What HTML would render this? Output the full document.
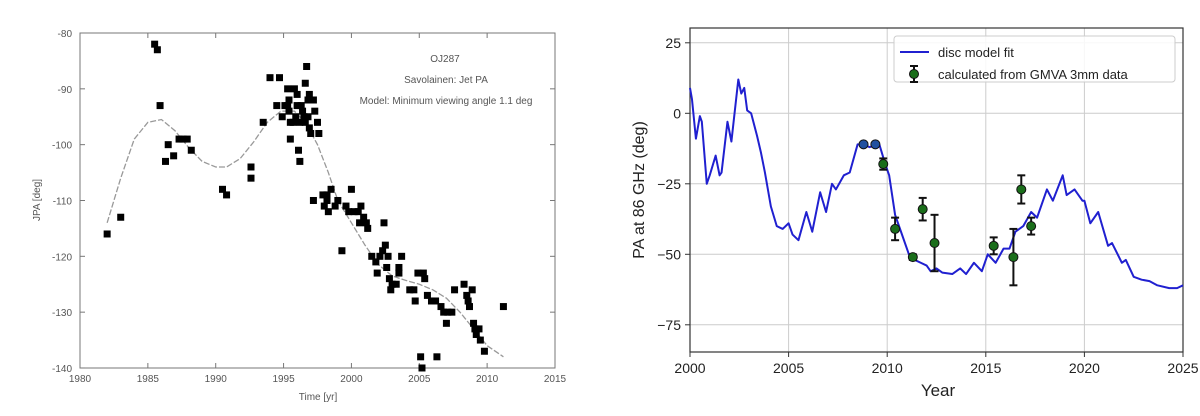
<!DOCTYPE html>
<html><head><meta charset="utf-8"><style>
body{margin:0;background:#fff;width:1200px;height:416px;overflow:hidden}
svg{display:block}
</style></head><body>
<svg id="s" width="1200" height="416" xmlns="http://www.w3.org/2000/svg" font-family="Liberation Sans, DejaVu Sans, sans-serif"></svg>
<script>
var s=document.getElementById('s'),h='';
// LEFT
function lx(t){return 80+(t-1980)*13.571}
function ly(v){return 33-(v+80)*5.583}
h+='<rect x="80" y="33" width="475" height="335" fill="none" stroke="#777" stroke-width="1"/>';
for(var t=1980;t<=2015;t+=5){var x=lx(t);h+='<line x1="'+x+'" y1="368" x2="'+x+'" y2="363" stroke="#777"/><line x1="'+x+'" y1="33" x2="'+x+'" y2="38" stroke="#777"/><text x="'+x+'" y="382" font-size="10" fill="#555" text-anchor="middle">'+t+'</text>';}
for(var v=-80;v>=-140;v-=10){var y=ly(v);h+='<line x1="80" y1="'+y+'" x2="85" y2="'+y+'" stroke="#777"/><line x1="555" y1="'+y+'" x2="550" y2="'+y+'" stroke="#777"/><text x="72" y="'+(y+4)+'" font-size="10" fill="#555" text-anchor="end">'+v+'</text>';}
h+='<text x="318" y="400" font-size="10" fill="#555" text-anchor="middle">Time [yr]</text>';
h+='<text transform="translate(40,200) rotate(-90)" font-size="10" fill="#555" text-anchor="middle">JPA [deg]</text>';
h+='<text x="445" y="62" font-size="10" fill="#555" text-anchor="middle">OJ287</text><text x="446" y="83" font-size="10" fill="#555" text-anchor="middle">Savolainen: Jet PA</text><text x="446" y="104" font-size="10" fill="#555" text-anchor="middle">Model: Minimum viewing angle 1.1 deg</text>';
var m=[[1982,-114],[1983,-106],[1984,-99],[1985,-96],[1986,-95.5],[1987,-97.5],[1988,-100.5],[1989,-103],[1990,-104],[1990.8,-104],[1991.8,-102.5],[1992.8,-99.5],[1993.8,-96],[1994.8,-94],[1995.8,-94],[1996.6,-96],[1997.5,-100],[1998.3,-105],[1999,-110],[2000,-114],[2001,-118],[2002,-121.5],[2003,-123.5],[2004,-124.3],[2005,-125],[2006,-126],[2007,-127.5],[2008,-130],[2009,-133],[2010,-136],[2011.2,-138]];
h+='<polyline fill="none" stroke="#999" stroke-width="1.3" stroke-dasharray="6,2" points="'+m.map(function(p){return lx(p[0])+','+ly(p[1])}).join(' ')+'"/>';
var d=[[1982,-116],[1983,-113],[1985.5,-82],[1985.7,-83],[1985.9,-93],[1986.3,-103],[1986.5,-100],[1986.9,-102],[1987.3,-99],[1987.6,-99],[1987.9,-99],[1988.2,-101],[1990.5,-108],[1990.8,-109],[1992.6,-104],[1992.6,-106],[1993.5,-96],[1994,-88],[1994.5,-93],[1994.7,-88],[1994.9,-95],[1995.1,-93],[1995.3,-90],[1995.4,-92],[1995.4,-94],[1995.5,-96],[1995.3,-93],[1995.5,-99],[1995.8,-90],[1995.7,-96],[1995.9,-95],[1996,-91],[1996,-93],[1996.1,-101],[1996.2,-103],[1996.3,-93],[1996.2,-96],[1996.5,-95],[1996.4,-94],[1996.6,-89],[1996.7,-86],[1996.6,-96],[1996.8,-92],[1996.8,-95],[1996.9,-97],[1997,-98],[1996.9,-91],[1997.2,-92],[1997.3,-94],[1997.5,-96],[1997.6,-98],[1997.2,-110],[1997.9,-109],[1998,-111],[1998.2,-110],[1998.2,-109],[1998.3,-112],[1998.5,-108],[1998.8,-111],[1999,-110],[1999.3,-119],[1999.6,-111],[1999.8,-112],[2000,-108],[2000.2,-112],[2000.5,-112],[2000.6,-114],[2000.7,-111],[2000.9,-113],[2001.1,-114],[2001.2,-115],[2001.5,-120],[2001.8,-121],[2001.9,-123],[2002.1,-120],[2002.3,-119],[2002.4,-114],[2002.5,-118],[2002.6,-122],[2002.7,-120],[2002.8,-124],[2002.9,-126],[2003,-125],[2003.3,-125],[2003.5,-122],[2003.5,-123],[2003.7,-120],[2004.3,-126],[2004.6,-126],[2004.7,-128],[2004.9,-123],[2005.1,-138],[2005.2,-140],[2005.3,-123],[2005.4,-124],[2005.6,-127],[2005.9,-128],[2006.2,-128],[2006.3,-138],[2006.6,-129],[2006.8,-130],[2007,-132],[2007.1,-130],[2007.4,-130],[2007.6,-126],[2008.3,-125],[2008.5,-127],[2008.6,-128],[2008.7,-129],[2008.9,-126],[2009,-132],[2009.1,-133],[2009.2,-134],[2009.4,-133],[2009.5,-135],[2009.8,-137],[2011.2,-129]];
d.forEach(function(p){h+='<rect x="'+(lx(p[0])-3.5)+'" y="'+(ly(p[1])-3.5)+'" width="7" height="7" fill="#000"/>';});
// RIGHT
function rx(t){return 690+(t-2000)*19.72}
function ry(v){return 113.3-v*2.82}
for(var t=2000;t<=2025;t+=5){var x=rx(t);h+='<line x1="'+x+'" y1="28" x2="'+x+'" y2="352" stroke="#ccc" stroke-width="1"/><line x1="'+x+'" y1="352" x2="'+x+'" y2="357" stroke="#333"/><text x="'+x+'" y="373" font-size="14" fill="#222" text-anchor="middle">'+t+'</text>';}
[25,0,-25,-50,-75].forEach(function(v){var y=ry(v);h+='<line x1="690" y1="'+y+'" x2="1183" y2="'+y+'" stroke="#ccc"/><line x1="685" y1="'+y+'" x2="690" y2="'+y+'" stroke="#333"/><text x="681" y="'+(y+5)+'" font-size="14" fill="#222" text-anchor="end">'+(v<0?'\u2212'+(-v):v)+'</text>';});
h+='<rect x="690" y="28" width="493" height="324" fill="none" stroke="#333" stroke-width="1.2"/>';
h+='<text x="938" y="396" font-size="17" fill="#222" text-anchor="middle">Year</text>';
h+='<text transform="translate(644,190) rotate(-90)" font-size="16" fill="#222" text-anchor="middle">PA at 86 GHz (deg)</text>';
var b=[[2000,9],[2000.1,5],[2000.3,-9],[2000.5,-1],[2000.6,-3],[2000.85,-25],[2001,-22],[2001.3,-15],[2001.5,-22],[2001.6,-21],[2001.9,-3],[2002.1,-10],[2002.45,12],[2002.6,7],[2002.75,9],[2002.9,1],[2003.1,0],[2003.4,-8],[2003.6,-14],[2003.8,-21],[2004.1,-33],[2004.4,-40],[2004.7,-41],[2005,-39],[2005.2,-43],[2005.5,-45],[2005.9,-35],[2006.2,-42],[2006.6,-28],[2006.9,-35],[2007.2,-25],[2007.4,-27],[2007.8,-22],[2008.1,-21],[2008.5,-11],[2008.8,-11],[2009.1,-12],[2009.6,-11],[2009.9,-18],[2010.1,-22],[2010.4,-36],[2010.7,-42],[2011.1,-50],[2011.4,-52],[2011.7,-53],[2012,-54],[2012.2,-56],[2012.5,-55],[2012.8,-56.5],[2013.3,-57],[2013.7,-55],[2014,-57],[2014.4,-53],[2014.8,-56],[2015.1,-50],[2015.5,-53],[2015.9,-48],[2016.2,-48],[2016.5,-42],[2016.9,-40],[2017.3,-35],[2017.6,-37],[2018.1,-27],[2018.4,-31],[2018.9,-22],[2019.1,-29],[2019.5,-27],[2019.9,-31],[2020,-31],[2020.3,-39],[2020.7,-35],[2021.2,-47],[2021.4,-46],[2021.9,-53],[2022.1,-52],[2022.5,-58],[2022.9,-59],[2023.3,-59.5],[2023.7,-61],[2024.3,-62],[2024.7,-62],[2025,-61]];
h+='<polyline fill="none" stroke="#2020d0" stroke-width="2" stroke-linejoin="round" points="'+b.map(function(p){return rx(p[0])+','+ry(p[1])}).join(' ')+'"/>';
var e=[[2008.8,-11,0],[2009.4,-11,0],[2009.8,-18,2],[2010.4,-41,4],[2011.3,-51,1],[2011.8,-34,4],[2012.4,-46,10],[2015.4,-47,3],[2016.4,-51,10],[2016.8,-27,5],[2017.3,-40,3]];
e.forEach(function(p){var x=rx(p[0]);if(p[2]>0){var y1=ry(p[1]+p[2]),y2=ry(p[1]-p[2]);h+='<line x1="'+x+'" y1="'+y1+'" x2="'+x+'" y2="'+y2+'" stroke="#111" stroke-width="2"/><line x1="'+(x-4)+'" y1="'+y1+'" x2="'+(x+4)+'" y2="'+y1+'" stroke="#111" stroke-width="2"/><line x1="'+(x-4)+'" y1="'+y2+'" x2="'+(x+4)+'" y2="'+y2+'" stroke="#111" stroke-width="2"/>';}
h+='<circle cx="'+x+'" cy="'+ry(p[1])+'" r="4.5" fill="'+(p[2]==0?'#2050a0':'#1a6e1a')+'" stroke="#111" stroke-width="1"/>';});
h+='<rect x="894" y="36" width="281" height="46" rx="3" fill="#fff" fill-opacity="0.85" stroke="#ccc"/>';
h+='<line x1="900" y1="52" x2="929" y2="52" stroke="#2020d0" stroke-width="2"/><text x="938" y="57" font-size="13" fill="#222">disc model fit</text>';
h+='<line x1="914" y1="66" x2="914" y2="82" stroke="#111" stroke-width="2"/><line x1="910" y1="66" x2="918" y2="66" stroke="#111" stroke-width="2"/><line x1="910" y1="82" x2="918" y2="82" stroke="#111" stroke-width="2"/><circle cx="914" cy="74" r="4.5" fill="#1a6e1a" stroke="#111"/><text x="938" y="79" font-size="13" fill="#222">calculated from GMVA 3mm data</text>';
s.innerHTML=h;
</script>
</body></html>
